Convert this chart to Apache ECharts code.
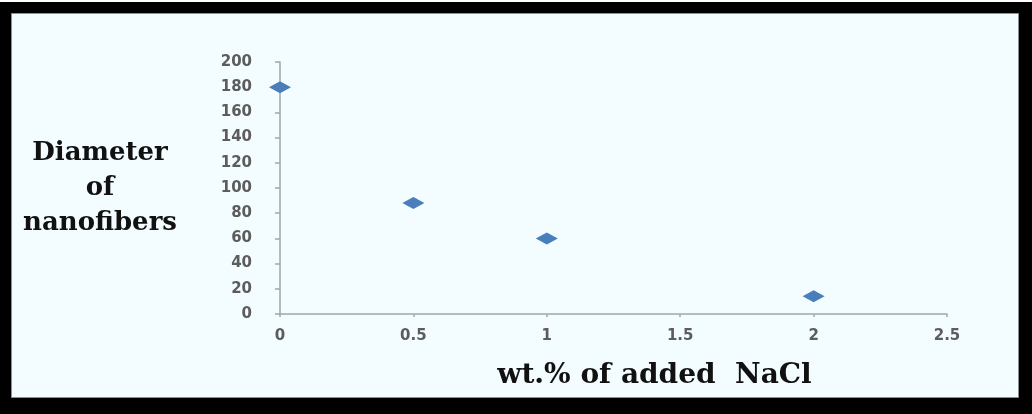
<!DOCTYPE html>
<html>
<head>
<meta charset="utf-8">
<script src="https://cdn.jsdelivr.net/npm/echarts@6/dist/echarts.min.js"></script>
<style>
html,body{margin:0;padding:0;background:#000;}
#chart{width:1032px;height:414px;}
</style>
</head>
<body>
<div id="chart"></div>
<script>
const naclWt = [0, 0.5, 1, 2];
const fiberDiameter = [180, 88, 60, 14];
const yTitle = ['Diameter', 'of', 'nanofibers'];
const xTitle = 'wt.% of added  NaCl';

const chart = echarts.init(document.getElementById('chart'), null, {renderer: 'canvas'});
const tickFont = {fontFamily: 'DejaVu Sans', fontWeight: 'bold', fontSize: 15, color: '#5c5c5c'};
chart.setOption({
  backgroundColor: '#000',
  animation: false,
  graphic: [
    {type: 'rect', left: 0, top: 0, z: -10, shape: {width: 1032, height: 2}, style: {fill: '#fff'}},
    {type: 'rect', left: 11, top: 13, z: -10, shape: {width: 1007, height: 384}, style: {fill: '#f3fcfe', stroke: '#8a9094', lineWidth: 1}},
    {type: 'text', z: 10, left: 12, top: 136,
      style: {text: yTitle.join('\n'), font: 'bold 26px "DejaVu Serif"', fill: '#111', textAlign: 'center', lineHeight: 35, width: 176, align: 'center'}}
  ],
  grid: {left: 280, right: 85, top: 62, bottom: 100},
  xAxis: {
    type: 'value', min: 0, max: 2.5, interval: 0.5,
    splitLine: {show: false},
    axisLine: {lineStyle: {color: '#a3a6a8', width: 1.5}},
    axisTick: {show: true, inside: false, length: 3, lineStyle: {color: '#a3a6a8', width: 1.5}},
    axisLabel: Object.assign({margin: 15}, tickFont),
    name: xTitle, nameLocation: 'middle', nameGap: 48,
    nameTextStyle: {fontFamily: 'DejaVu Serif', fontWeight: 'bold', fontSize: 28, color: '#111', padding: [0, 0, 0, 82]}
  },
  yAxis: {
    type: 'value', min: 0, max: 200, interval: 20,
    splitLine: {show: false},
    axisLine: {show: true, lineStyle: {color: '#a3a6a8', width: 1.5}},
    axisTick: {show: true, length: 5, lineStyle: {color: '#a3a6a8', width: 1.5}},
    axisLabel: Object.assign({margin: 28}, tickFont)
  },
  series: [{
    type: 'scatter',
    data: naclWt.map((x, i) => [x, fiberDiameter[i]]),
    symbol: 'diamond',
    symbolSize: [22, 12],
    itemStyle: {color: '#4a7ebb', opacity: 1}
  }]
});
</script>
</body>
</html>
